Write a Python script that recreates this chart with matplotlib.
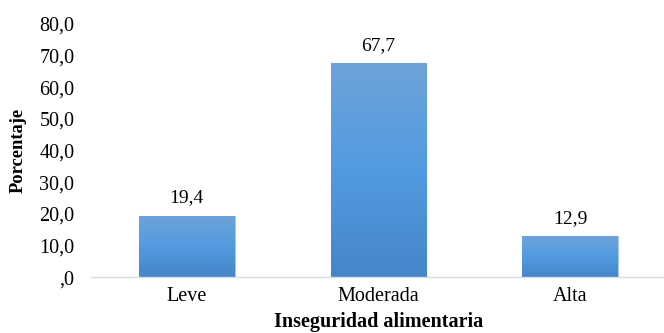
import matplotlib
matplotlib.use("Agg")
import matplotlib.pyplot as plt
import numpy as np
from matplotlib.ticker import FuncFormatter, MultipleLocator

plt.rcParams['font.family'] = ['Liberation Serif', 'DejaVu Serif']

categorias = ["Leve", "Moderada", "Alta"]
porcentajes = [19.4, 67.7, 12.9]

fig = plt.figure(figsize=(6.64, 3.33), dpi=100)
ax = fig.add_axes([0.137, 0.168, 0.866, 0.76])

x = np.arange(len(categorias))
bars = ax.bar(x, porcentajes, width=0.5, color='#5599db', edgecolor='#a9c8ea', linewidth=0.8)

# vertical gradient inside each bar, lighter at the top
grad = np.linspace(0, 1, 256).reshape(-1, 1)
cmap = matplotlib.colors.LinearSegmentedColormap.from_list(
    'azul', ['#4586c8', '#529be0', '#6ea3d9'])
for b in bars:
    x0, w, h = b.get_x(), b.get_width(), b.get_height()
    im = ax.imshow(grad, cmap=cmap, aspect='auto', origin='lower',
                   extent=[x0, x0 + w, 0, h], zorder=b.get_zorder() + 0.1)
    im.set_clip_path(b)

for xi, v in zip(x, porcentajes):
    ax.text(xi, v + 5.6, f"{v:.1f}".replace('.', ','), ha='center', va='center', fontsize=14)

ax.set_xlim(-0.5, 2.5)
ax.set_ylim(0, 80)
ax.yaxis.set_major_locator(MultipleLocator(10))
ax.yaxis.set_major_formatter(FuncFormatter(
    lambda v, p: ",0" if v == 0 else f"{v:.1f}".replace('.', ',')))
ax.set_xticks(x)
ax.set_xticklabels(categorias)
ax.tick_params(axis='y', length=0, pad=12, labelsize=14.5)
ax.tick_params(axis='x', length=0, pad=7, labelsize=14.5)

for s in ['top', 'right', 'left']:
    ax.spines[s].set_visible(False)
ax.spines['bottom'].set_color('#d9dde3')
ax.spines['bottom'].set_linewidth(1.0)

ax.set_ylabel("Porcentaje", fontsize=13.3, fontweight='bold', va='center')
ax.yaxis.set_label_coords(-0.127, 0.5)
ax.set_xlabel("Inseguridad alimentaria", fontsize=14.5, fontweight='bold', va='center')
ax.xaxis.set_label_coords(0.5, -0.178)

fig.savefig("out.png", dpi=100)
